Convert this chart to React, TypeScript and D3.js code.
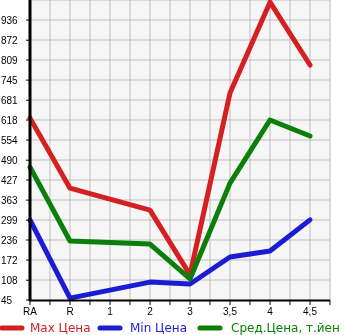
import React from "react";
import * as d3 from "d3";

const categories = ["RA", "R", "1", "2", "3", "3,5", "4", "4,5"];
const maxPrice = [624, 401, null, 331, 125, 704, 993, 793];
const minPrice = [300, 51, null, 102, 96, 182, 201, 300];
const avgPrice = [468, 233, null, 223, 112, 417, 618, 567];
const yTicks = [45, 108, 172, 236, 299, 363, 427, 490, 554, 618, 681, 745, 809, 872, 936];
const seriesNames = ["Max Цена", "Min Цена", "Сред.Цена, т.йен"];
const seriesColors = ["#d42020", "#1c1cd4", "#0a800a"];

const W = 345, H = 335;
const left = 30, right = 330, top = 0, bottom = 300;

export default function App() {
  const x = d3.scaleLinear().domain([0, 7.5]).range([left, right]);
  const y = d3.scaleLinear().domain([45, 1000]).range([bottom, top]);
  const allSeries = [maxPrice, minPrice, avgPrice];
  const line = d3
    .line<[number, number]>()
    .x((d) => x(d[0]))
    .y((d) => y(d[1]));
  const gridX = d3.range(1, 16).map((i) => left + i * 20);
  const gridY = d3.range(0, 15).map((i) => top + i * 20);
  const font = "'Liberation Sans', Arial, sans-serif";
  const legendFont = "'DejaVu Sans', sans-serif";
  const swatchX = [2, 100, 200];
  const textX = [30, 130, 231];
  return (
    <div style={{ position: "fixed", left: 0, top: 0 }}>
      <svg width={W} height={H} style={{ display: "block" }}>
        <rect x={left} y={top} width={right - left} height={bottom - top} fill="#f6f6f6" />
        {gridX.map((gx) => (
          <line key={"gx" + gx} x1={gx} x2={gx} y1={top} y2={bottom} stroke="#bdbdbd" strokeWidth={1} />
        ))}
        {gridY.map((gy) => (
          <line key={"gy" + gy} x1={left} x2={right} y1={gy} y2={gy} stroke="#bdbdbd" strokeWidth={1} />
        ))}
        {yTicks.map((t) => (
          <g key={"yt" + t}>
            <line x1={left - 4} x2={left} y1={y(t)} y2={y(t)} stroke="#000" strokeWidth={1} />
            <text x={1} y={y(t)} dy="0.35em" fontSize={10} fontFamily={font} fill="#000">
              {t}
            </text>
          </g>
        ))}
        {d3.range(0, 16).map((i) => (
          <line key={"xt" + i} x1={left + i * 20} x2={left + i * 20} y1={bottom} y2={bottom + 5} stroke="#000" strokeWidth={1} />
        ))}
        {categories.map((c, i) => (
          <text key={"xl" + c} x={x(i)} y={315} textAnchor="middle" fontSize={10} fontFamily={font} fill="#000">
            {c}
          </text>
        ))}
        {allSeries.map((s, si) => {
          const pts = s
            .map((v, i) => [i, v] as [number, number | null])
            .filter((p) => p[1] !== null) as [number, number][];
          return (
            <path
              key={"s" + si}
              d={line(pts) || ""}
              fill="none"
              stroke={seriesColors[si]}
              strokeWidth={5}
              strokeLinejoin="round"
              strokeLinecap="round"
            />
          );
        })}
        <line x1={left} x2={left} y1={top} y2={bottom + 1} stroke="#000" strokeWidth={3} />
        <line x1={left - 1} x2={right} y1={bottom + 0.5} y2={bottom + 0.5} stroke="#000" strokeWidth={2} />
        {seriesNames.map((n, i) => (
          <g key={"lg" + i}>
            <line x1={swatchX[i]} x2={swatchX[i] + 20} y1={328} y2={328} stroke={seriesColors[i]} strokeWidth={5} strokeLinecap="round" />
            <text x={textX[i]} y={332} fontSize={12} fontFamily={legendFont} fill={seriesColors[i]}>
              {n}
            </text>
          </g>
        ))}
      </svg>
    </div>
  );
}
